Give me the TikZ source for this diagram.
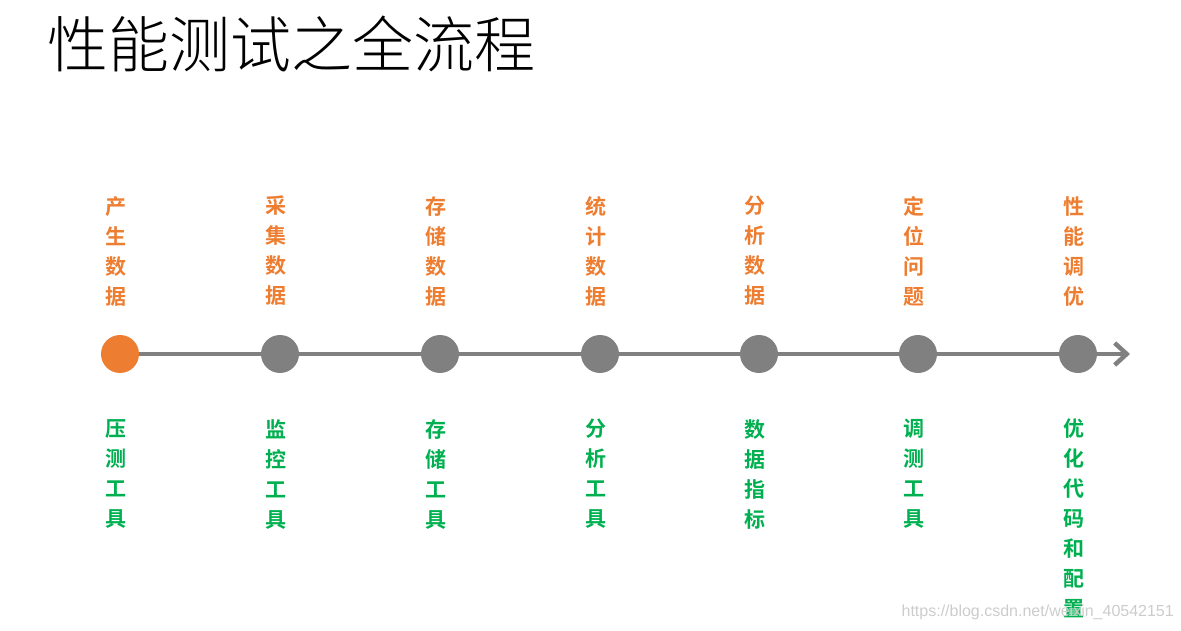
\documentclass[tikz,border=0pt]{standalone}
\usepackage{fontspec}
\setmainfont{Liberation Sans}
\newfontfamily\cjk{Noto Sans CJK SC Light}
\newfontfamily\cjkbold{Noto Sans CJK SC Bold}
\usetikzlibrary{arrows.meta}
\definecolor{steporange}{HTML}{ED7D31}
\definecolor{toolgreen}{HTML}{00B050}
\definecolor{axisgray}{HTML}{808080}
\tikzset{
  toplab/.style={anchor=north, inner sep=0pt, align=center, text=steporange, xshift=-4pt,
    font=\cjkbold\fontsize{21}{30}\selectfont},
  botlab/.style={anchor=north, inner sep=0pt, align=center, text=toolgreen, xshift=-4pt,
    font=\cjkbold\fontsize{21}{30}\selectfont},
  dot/.style={circle, fill=axisgray, minimum size=38pt, inner sep=0pt}
}
\begin{document}
\begin{tikzpicture}[x=1pt, y=-1pt, line join=round, line cap=round]
  \useasboundingbox (0,0) rectangle (1181,631);
  % title
  \node[anchor=west, inner sep=0pt, font=\cjk\fontsize{61}{61}\selectfont] (title) at (47,44) {性能测试之全流程};
  % time axis
  \foreach \i/\x in {1/120, 2/280, 3/440, 4/600, 5/759, 6/918, 7/1078}
    \coordinate (c\i) at (\x,354);
  \coordinate (tip) at (1130,354);
  \draw[axisgray, line width=4.5pt, -{Straight Barb[length=12pt, width=22pt]}] (c1) -- (tip);
  \node[dot, fill=steporange] (p1) at (c1) {};
  \foreach \i in {2,...,7} \node[dot] (p\i) at (c\i) {};
  % steps
  \node[toplab] (s1) at (120,196) {产\\生\\数\\据};
  \node[toplab] (s2) at (280,196) {采\\集\\数\\据};
  \node[toplab] (s3) at (440,196) {存\\储\\数\\据};
  \node[toplab] (s4) at (600,196) {统\\计\\数\\据};
  \node[toplab] (s5) at (759,196) {分\\析\\数\\据};
  \node[toplab] (s6) at (918,196) {定\\位\\问\\题};
  \node[toplab] (s7) at (1078,196) {性\\能\\调\\优};
  % tools
  \node[botlab] (t1) at (120,419) {压\\测\\工\\具};
  \node[botlab] (t2) at (280,419) {监\\控\\工\\具};
  \node[botlab] (t3) at (440,419) {存\\储\\工\\具};
  \node[botlab] (t4) at (600,419) {分\\析\\工\\具};
  \node[botlab] (t5) at (759,419) {数\\据\\指\\标};
  \node[botlab] (t6) at (918,419) {调\\测\\工\\具};
  \node[botlab] (t7) at (1078,419) {优\\化\\代\\码\\和\\配\\置};
  % watermark
  \node[anchor=east, inner sep=0pt, text=black!20, font=\fontsize{16}{16}\selectfont] (mark) at (1174,612) {https://blog.csdn.net/weixin\_40542151};
\end{tikzpicture}
\end{document}
